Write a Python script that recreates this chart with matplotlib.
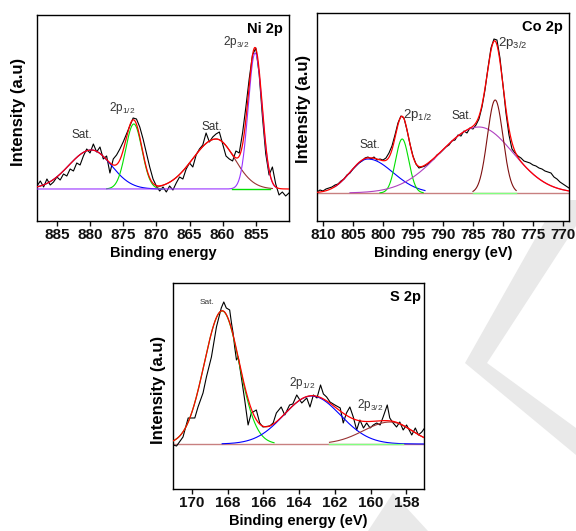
import numpy as np
import matplotlib.pyplot as plt
from matplotlib.patches import Polygon

plt.rcParams['font.family'] = ['Liberation Sans', 'DejaVu Sans']
plt.rcParams['mathtext.fontset'] = 'custom'
plt.rcParams['mathtext.rm'] = 'Liberation Sans'

# ---- Ni 2p : raw counts, 888 -> 850 eV every 0.5 eV (height above baseline)
ni_range = (888.0, 850.0)
ni_counts = [3, 8, 2, 10, 4, 7, 12, 9, 15, 13,
             20, 18, 26, 24, 33, 40, 36, 45, 37, 42,
             30, 33, 16, 30, 34, 40, 47, 55, 63, 71,
             70, 62, 50, 36, 22, 10, 3, -2, 2, -3,
             3, -1, 6, 12, 10, 20, 26, 22, 34, 40,
             44, 56, 47, 52, 55, 57, 45, 33, 30, 28,
             38, 36, 56, 82, 110, 134, 141, 115, 72, 35,
             14, 22, 5, -6, -3, -7, -4]
# fitted components: Sat., 2p1/2, Sat., 2p3/2
ni_centers = [879.8, 873.4, 861.0, 855.1]
ni_heights = [39, 65, 50, 136]
ni_sig_hi = [3.4, 1.23, 3.5, 1.05]
ni_sig_lo = [3.0, 1.23, 2.8, 1.05]
ni_spans = [(888, 869), (877.5, 869), (870, 852.5), (888, 852)]
ni_colors = ['#0000ff', '#00e000', '#993333', '#9933ff']
ni_base = [('#00e000', 858.6, 852.9)]

# ---- Co 2p : raw counts, 811 -> 769 eV every 0.5 eV
co_range = (811.0, 769.0)
co_counts = [1, 3, 2, 4, 5, 6, 8, 9, 12, 14, 18, 20, 24, 27, 30, 32, 35, 36, 34, 36, 33,
             34, 33, 35, 40, 47, 58, 70, 77, 75, 63, 49, 37, 29, 25, 26, 27, 29, 32, 34, 38,
             40, 43, 46, 48, 52, 53, 58, 57, 62, 60, 65, 64, 68, 74, 86, 103, 125, 145, 154, 153,
             135, 108, 80, 58, 44, 40, 37, 35, 32, 31, 30, 28, 27, 25, 24, 22, 21, 20, 16, 14,
             11, 9, 7, 5]
# fitted components: Sat., 2p1/2, Sat., 2p3/2
co_centers = [802.5, 796.8, 784.0, 781.3]
co_heights = [34, 54, 66, 93]
co_sig_hi = [3.0, 1.1, 6.5, 1.3]
co_sig_lo = [4.15, 1.1, 5.7, 1.3]
co_spans = [(808, 793), (800.5, 793.3), (805.5, 769), (785, 777.8)]
co_colors = ['#0000ff', '#00e000', '#b040c0', '#7f1010']
co_base = [('#c88080', 811, 769), ('#80ff80', 785, 777.8)]

# ---- S 2p : raw counts
s_energy = [171.04, 170.85, 170.65, 170.49, 170.2, 169.83, 169.65, 169.37, 169.18, 168.9,
            168.62, 168.35, 168.21, 168.07, 167.88, 167.78, 167.69, 167.6, 167.5, 167.4,
            167.23, 167.04, 166.85, 166.67, 166.39, 166.2, 166.02, 165.64, 165.45, 165.27,
            165.0, 164.8, 164.53, 164.35, 164.13, 163.85, 163.57, 163.39, 163.2, 163.0,
            162.8, 162.64, 162.46, 162.27, 162.0, 161.7, 161.53, 161.35, 161.16, 160.97,
            160.78, 160.6, 160.4, 160.22, 160.03, 159.85, 159.66, 159.47, 159.3, 159.07,
            158.93, 158.74, 158.55, 158.37, 158.18, 157.99, 157.7, 157.5, 157.33, 157.14,
            156.98]
s_counts = [-1, -2, 3, 7, 26, 26, 37, 51, 67, 87,
            117, 136, 142, 136, 134, 121, 111, 97, 84, 87,
            67, 44, 19, 31, 34, 21, 17, 18, 21, 31,
            37, 29, 39, 40, 49, 41, 46, 37, 49, 46,
            59, 50, 47, 42, 39, 36, 21, 31, 37, 27,
            14, 24, 16, 21, 16, 19, 21, 19, 27, 39,
            26, 21, 17, 22, 14, 19, 9, 16, 9, 12,
            16]
s_range = (171.05, 157.0)
# fitted components: Sat., 2p1/2, 2p3/2
s_centers = [168.3, 163.3, 158.9]
s_heights = [133, 48, 22]
s_sig_hi = [1.0, 1.55, 1.5]
s_sig_lo = [0.95, 1.6, 1.2]
s_spans = [(171.05, 165.4), (168.3, 157.0), (162.3, 157.0)]
s_colors = ['#00e000', '#0000ff', '#993333']
s_base = [('#c88080', 171.05, 157.0)]
s_base_top = [('#80ff80', 162.3, 158.2)]


def comp(e, c, h, s_hi, s_lo):
    s = np.where(e >= c, s_hi, s_lo)
    return h * np.exp(-(e - c) ** 2 / (2 * s ** 2))


def panel(ax, energy, counts, centers, heights, sig_hi, sig_lo, spans, colors,
          base, xlim, ylim, ticks, base_top=()):
    for col, a, b in base:
        ax.plot([a, b], [0, 0], color=col, lw=1.0, zorder=1)
    ax.plot(energy, counts, color='black', lw=0.8, zorder=2)
    for c, h, sh, sl, (a, b), col in zip(centers, heights, sig_hi, sig_lo, spans, colors):
        e = np.linspace(a, b, 400)
        ax.plot(e, comp(e, c, h, sh, sl), color=col, lw=0.8, zorder=3)
    for col, a, b in base_top:
        ax.plot([a, b], [0, 0], color=col, lw=1.0, zorder=3.5)
    e = np.linspace(xlim[0], xlim[1], 900)
    env = np.zeros_like(e)
    for c, h, sh, sl in zip(centers, heights, sig_hi, sig_lo):
        env += comp(e, c, h, sh, sl)
    ax.plot(e, env, color='#ff0000', lw=0.9, zorder=4)
    ax.set_xlim(xlim)
    ax.set_ylim(ylim)
    ax.set_xticks(ticks)
    ax.set_yticks([])
    ax.tick_params(axis='x', direction='out', length=3.5, width=1.0, pad=1.5,
                   labelsize=11, colors='#111111')
    for lab in ax.get_xticklabels():
        lab.set_fontweight('bold')
    for sp in ax.spines.values():
        sp.set_linewidth(1.0)


fig = plt.figure(figsize=(5.76, 5.31), dpi=100)

# faint watermark in the background
for pts in [[(557, 200), (576, 200), (576, 226), (487, 363), (465, 363)],
            [(465, 363), (487, 363), (576, 428), (576, 455)],
            [(393, 493), (368, 531), (428, 531)]]:
    fig.patches.append(Polygon([(x / 576, 1 - y / 531) for x, y in pts], closed=True,
                               facecolor='#e9e9e9', edgecolor='none',
                               transform=fig.transFigure, zorder=-5))

ann = dict(fontsize=8.5, color='#333333', ha='center', va='center')

ax1 = fig.add_axes([0.0642, 0.5838, 0.4375, 0.388])
panel(ax1, np.linspace(ni_range[0], ni_range[1], len(ni_counts)), ni_counts,
      ni_centers, ni_heights, ni_sig_hi, ni_sig_lo, ni_spans, ni_colors,
      [], (888, 850), (-32, 174), [885, 880, 875, 870, 865, 860, 855], ni_base)
ax1.text(0.976, 0.967, 'Ni 2p', transform=ax1.transAxes, ha='right', va='top',
         fontsize=10.5, fontweight='bold')
ax1.text(857.9, 147, r'2p$_{\mathregular{3/2}}$', **ann)
ax1.text(875.2, 81, r'2p$_{\mathregular{1/2}}$', **ann)
ax1.text(881.2, 54, 'Sat.', **ann)
ax1.text(861.6, 62, 'Sat.', **ann)
ax1.set_xlabel('Binding energy', fontsize=10.5, fontweight='bold', labelpad=3)
ax1.set_ylabel('Intensity (a.u)', fontsize=12, fontweight='bold')
ax1.yaxis.set_label_coords(-0.045, 0.53)

ax2 = fig.add_axes([0.5503, 0.5838, 0.4375, 0.3917])
panel(ax2, np.linspace(co_range[0], co_range[1], len(co_counts)), co_counts,
      co_centers, co_heights, co_sig_hi, co_sig_lo, co_spans, co_colors,
      co_base, (811, 769), (-28, 180), [810, 805, 800, 795, 790, 785, 780, 775, 770])
ax2.text(0.977, 0.966, 'Co 2p', transform=ax2.transAxes, ha='right', va='top',
         fontsize=10.5, fontweight='bold')
ax2.text(778.4, 150, r'2p$_{\mathregular{3/2}}$', fontsize=9.5, color='#333333',
         ha='center', va='center')
ax2.text(794.2, 78, r'2p$_{\mathregular{1/2}}$', fontsize=9.5, color='#333333',
         ha='center', va='center')
ax2.text(786.9, 77, 'Sat.', **ann)
ax2.text(802.2, 48, 'Sat.', **ann)
ax2.set_xlabel('Binding energy (eV)', fontsize=10.5, fontweight='bold', labelpad=3)
ax2.set_ylabel('Intensity (a.u)', fontsize=12, fontweight='bold')
ax2.yaxis.set_label_coords(-0.025, 0.54)

ax3 = fig.add_axes([0.3003, 0.0791, 0.4363, 0.388])
panel(ax3, s_energy, s_counts, s_centers, s_heights, s_sig_hi, s_sig_lo, s_spans,
      s_colors, s_base, s_range, (-45, 161), [170, 168, 166, 164, 162, 160, 158],
      s_base_top)
ax3.text(0.985, 0.966, 'S 2p', transform=ax3.transAxes, ha='right', va='top',
         fontsize=10.5, fontweight='bold')
ax3.text(169.16, 141, 'Sat.', fontsize=6, color='#333333', ha='center', va='center')
ax3.text(163.85, 61, r'2p$_{\mathregular{1/2}}$', **ann)
ax3.text(160.04, 39, r'2p$_{\mathregular{3/2}}$', **ann)
ax3.set_xlabel('Binding energy (eV)', fontsize=10.5, fontweight='bold', labelpad=3)
ax3.set_ylabel('Intensity (a.u)', fontsize=12, fontweight='bold')
ax3.yaxis.set_label_coords(-0.028, 0.48)

fig.savefig('out.png', dpi=100)
